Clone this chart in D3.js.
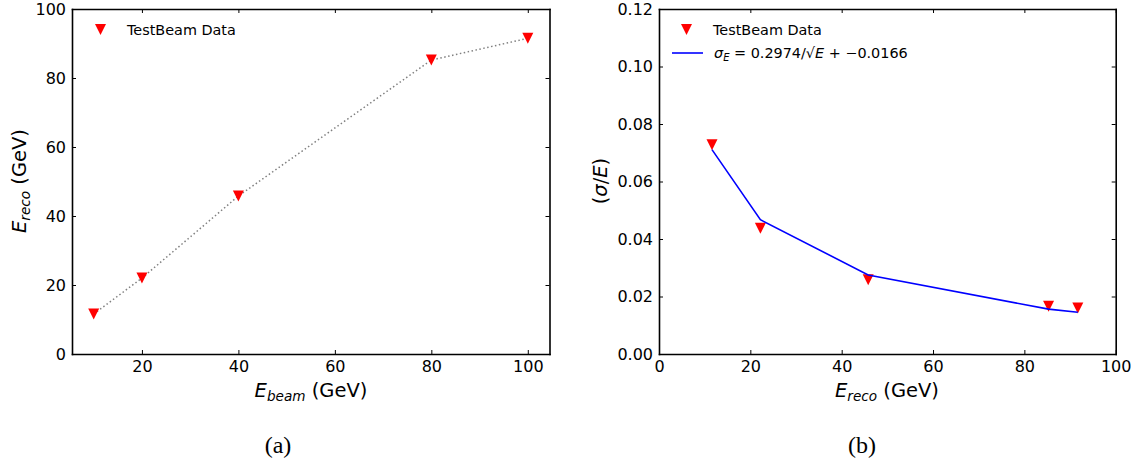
<!DOCTYPE html>
<html>
<head>
<meta charset="utf-8">
<script src="https://cdn.jsdelivr.net/npm/d3@7"></script>
<style>
  html, body { margin: 0; padding: 0; background: #fff; }
  svg { display: block; font-family: "DejaVu Sans", sans-serif; }
</style>
</head>
<body>
<svg id="chart" width="1145" height="461"></svg>
<script>
// ---- data ----
const beamEnergy = [10, 20, 40, 80, 100];
const recoEnergy = [11.6, 22.0, 45.8, 85.2, 91.5];
const recoEnergyB = [11.6, 22.2, 45.8, 85.3, 91.7];
const resolution = [0.0728, 0.0437, 0.0258, 0.0166, 0.0160];
const fitResolution = [0.0711, 0.0467, 0.0275, 0.0156, 0.0145];
const ticksA_x = [20, 40, 60, 80, 100];
const ticksA_y = [0, 20, 40, 60, 80, 100];
const ticksB_x = [0, 20, 40, 60, 80, 100];
const ticksB_y = [0, 0.02, 0.04, 0.06, 0.08, 0.10, 0.12];
const legendData = "TestBeam Data";
const fitLabel = {sym: "σ", sub: "E", body: " = 0.2974/√", e: "E", tail: " + −0.0166"};

const svg = d3.select("#chart");
const RED = "#ff0000";
const SERIF = "'Liberation Serif', 'Times New Roman', serif";
const tri = r => `M0,${r}L${-r},${-r}L${r},${-r}Z`;

function frame(g, x, y, xt, yt, yfmt) {
  const style = a => {
    a.selectAll(".domain").attr("stroke", "#000").attr("stroke-width", 1.6);
    a.selectAll(".tick line").attr("stroke", "#000").attr("stroke-width", 1);
    a.selectAll(".tick text").attr("font-size", 16).attr("fill", "#000")
      .attr("font-family", "DejaVu Sans, sans-serif");
  };
  g.append("g").attr("transform", `translate(0,${y.range()[0]})`)
    .call(d3.axisBottom(x).tickValues(xt).tickSize(-4).tickSizeOuter(0).tickPadding(7).tickFormat(d3.format("d")))
    .call(style);
  g.append("g").attr("transform", `translate(0,${y.range()[1]})`)
    .call(d3.axisTop(x).tickValues(xt).tickSize(-4).tickSizeOuter(0).tickFormat(""))
    .call(style);
  g.append("g").attr("transform", `translate(${x.range()[0]},0)`)
    .call(d3.axisLeft(y).tickValues(yt).tickSize(-4).tickSizeOuter(0).tickPadding(6).tickFormat(yfmt))
    .call(style);
  g.append("g").attr("transform", `translate(${x.range()[1]},0)`)
    .call(d3.axisRight(y).tickValues(yt).tickSize(-4).tickSizeOuter(0).tickFormat(""))
    .call(style);
  g.selectAll(".domain").attr("stroke-linecap", "square");
}

// ---- panel (a) ----
{
  const x = d3.scaleLinear().domain([5.5, 104.5]).range([72, 549.5]);
  const y = d3.scaleLinear().domain([0, 100]).range([354, 9]);
  const g = svg.append("g");
  const line = d3.line().x((d, i) => x(beamEnergy[i])).y(d => y(d));
  g.append("path").datum(recoEnergy).attr("d", line)
    .attr("fill", "none").attr("stroke", "#808080").attr("stroke-width", 1.5)
    .attr("stroke-dasharray", "1.5,2.5");
  g.selectAll(".pt").data(recoEnergy).join("path")
    .attr("transform", (d, i) => `translate(${x(beamEnergy[i])},${y(d)})`)
    .attr("d", tri(5.5)).attr("fill", RED);
  frame(g, x, y, ticksA_x, ticksA_y, d3.format("d"));
  // legend
  g.append("path").attr("transform", "translate(100.5,29.5)").attr("d", tri(5.5)).attr("fill", RED);
  g.append("text").attr("x", 127).attr("y", 29.5).attr("dy", "0.36em").attr("font-size", 14.4).text(legendData);
  // x label
  const xl = g.append("text").attr("x", 311).attr("y", 397).attr("text-anchor", "middle").attr("font-size", 19.5);
  xl.append("tspan").attr("font-style", "italic").text("E");
  xl.append("tspan").attr("font-style", "italic").attr("font-size", 13.6).attr("dy", 4).text("beam");
  xl.append("tspan").attr("dy", -4).text(" (GeV)");
  // y label
  const yl = g.append("text").attr("transform", "translate(26,181) rotate(-90)").attr("text-anchor", "middle").attr("font-size", 19.5);
  yl.append("tspan").attr("font-style", "italic").text("E");
  yl.append("tspan").attr("font-style", "italic").attr("font-size", 13.6).attr("dy", 4).text("reco");
  yl.append("tspan").attr("dy", -4).text(" (GeV)");
  // caption
  g.append("text").attr("x", 278).attr("y", 453).attr("text-anchor", "middle")
    .style("font-family", SERIF).attr("font-size", 24).text("(a)");
}

// ---- panel (b) ----
{
  const x = d3.scaleLinear().domain([0, 100]).range([659, 1115.7]);
  const y = d3.scaleLinear().domain([0, 0.12]).range([354, 9]);
  const g = svg.append("g");
  g.selectAll(".pt").data(resolution).join("path")
    .attr("transform", (d, i) => `translate(${x(recoEnergyB[i])},${y(d)})`)
    .attr("d", tri(5.5)).attr("fill", RED);
  const line = d3.line().x((d, i) => x(recoEnergyB[i])).y(d => y(d));
  g.append("path").datum(fitResolution).attr("d", line)
    .attr("fill", "none").attr("stroke", "#0000ff").attr("stroke-width", 1.6);
  frame(g, x, y, ticksB_x, ticksB_y, d3.format(".2f"));
  // legend
  g.append("path").attr("transform", "translate(686.5,29.5)").attr("d", tri(5.5)).attr("fill", RED);
  g.append("text").attr("x", 713).attr("y", 29.5).attr("dy", "0.36em").attr("font-size", 14.4).text(legendData);
  g.append("line").attr("x1", 672).attr("x2", 703).attr("y1", 53).attr("y2", 53)
    .attr("stroke", "#0000ff").attr("stroke-width", 1.6);
  const ft = g.append("text").attr("x", 714).attr("y", 53).attr("dy", "0.36em").attr("font-size", 14.4);
  ft.append("tspan").attr("font-style", "italic").text(fitLabel.sym);
  ft.append("tspan").attr("font-style", "italic").attr("font-size", 10).attr("dy", 2.5).text(fitLabel.sub);
  ft.append("tspan").attr("dy", -2.5).text(fitLabel.body);
  ft.append("tspan").attr("font-style", "italic").text(fitLabel.e);
  ft.append("tspan").text(fitLabel.tail);
  // x label
  const xl = g.append("text").attr("x", 887).attr("y", 397).attr("text-anchor", "middle").attr("font-size", 19.5);
  xl.append("tspan").attr("font-style", "italic").text("E");
  xl.append("tspan").attr("font-style", "italic").attr("font-size", 13.6).attr("dy", 4).text("reco");
  xl.append("tspan").attr("dy", -4).text(" (GeV)");
  // y label
  const yl = g.append("text").attr("transform", "translate(607,181) rotate(-90)").attr("text-anchor", "middle").attr("font-size", 19.5);
  yl.append("tspan").text("(");
  yl.append("tspan").attr("font-style", "italic").text("σ");
  yl.append("tspan").text("/");
  yl.append("tspan").attr("font-style", "italic").text("E");
  yl.append("tspan").text(")");
  // caption
  g.append("text").attr("x", 862).attr("y", 453).attr("text-anchor", "middle")
    .style("font-family", SERIF).attr("font-size", 24).text("(b)");
}
</script>
</body>
</html>
